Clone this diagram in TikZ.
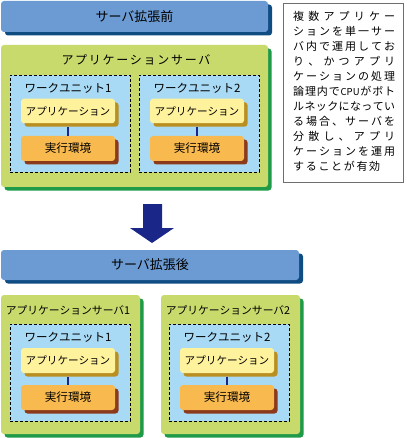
\documentclass[tikz,border=0pt]{standalone}
\usepackage{fontspec}
\setmainfont{Noto Sans CJK JP}
\usetikzlibrary{shadows}
\definecolor{barblue}{HTML}{6B9BD2}
\definecolor{barshadow}{HTML}{0E4C82}
\definecolor{srvgreen}{HTML}{C8DA6C}
\definecolor{srvshadow}{HTML}{1F9A48}
\definecolor{wublue}{HTML}{A9DAF5}
\definecolor{appyellow}{HTML}{FFF29C}
\definecolor{appshadow}{HTML}{B98F22}
\definecolor{exorange}{HTML}{F8B94F}
\definecolor{exshadow}{HTML}{8C3A1C}
\definecolor{arrowblue}{HTML}{1A2788}
\definecolor{noteborder}{HTML}{6E6E6E}
\def\jend{\jend}
\def\jspread#1{\ifx\jend#1\unskip\else{#1}\hfill\expandafter\jspread\fi}
\newcommand\jsp[2]{\hbox to #1{\jspread#2\jend}}
\tikzset{
  barbox/.style={fill=barblue, rounded corners=3pt, inner sep=0pt,
    general shadow={fill=barshadow, shadow xshift=4pt, shadow yshift=-3.5pt},
    font=\fontsize{13}{15}\selectfont},
  srvbox/.style={fill=srvgreen, rounded corners=3pt, inner sep=0pt,
    general shadow={fill=srvshadow, shadow xshift=3.5pt, shadow yshift=-3.5pt}},
  wubox/.style={fill=wublue, draw=black, densely dashed, line width=0.8pt, inner sep=0pt},
  appbox/.style={fill=appyellow, rounded corners=3pt, inner sep=0pt,
    minimum width=94pt, minimum height=24.5pt,
    general shadow={fill=appshadow, shadow xshift=3.5pt, shadow yshift=-3.5pt},
    font=\fontsize{10.6}{12}\selectfont},
  exbox/.style={fill=exorange, rounded corners=3pt, inner sep=0pt,
    minimum width=94pt, minimum height=25pt,
    general shadow={fill=exshadow, shadow xshift=3.5pt, shadow yshift=-3.5pt},
    font=\fontsize{11.6}{13}\selectfont},
  wulabel/.style={inner sep=0pt, font=\fontsize{11.5}{13}\selectfont},
  srvlabel/.style={inner sep=0pt, font=\fontsize{10.8}{13}\selectfont},
  link/.style={draw=arrowblue, line width=2pt, shorten <=3.5pt},
  noteline/.style={anchor=west, inner sep=0pt, font=\fontsize{11}{13}\selectfont},
}
\begin{document}
\begin{tikzpicture}[x=1pt,y=-1pt]
\useasboundingbox (0,0) rectangle (406,438);
% ---------- before ----------
\node[barbox, minimum width=267pt, minimum height=31pt] (bar1) at (134.5,16.5) {サーバ拡張前};
\node[srvbox, minimum width=267pt, minimum height=142pt] (srv) at (134.5,116) {};
\node[inner sep=0pt, font=\fontsize{12}{14}\selectfont] (srvT) at (136,60) {\jsp{149pt}{アプリケーションサーバ}};
\node[wubox, minimum width=120pt, minimum height=97pt] (wuA) at (70,123.5) {};
\node[wulabel] (wuAT) at (68,88) {ワークユニット1};
\node[appbox] (appA) at (68,111) {アプリケーション};
\node[exbox] (exA) at (68,148.5) {実行環境};
\draw[link] (appA.south) -- (exA.north);
\node[wubox, minimum width=120pt, minimum height=97pt] (wuB) at (199,123.5) {};
\node[wulabel] (wuBT) at (197,88) {ワークユニット2};
\node[appbox] (appB) at (197,111) {アプリケーション};
\node[exbox] (exB) at (197,148.5) {実行環境};
\draw[link] (appB.south) -- (exB.north);
% ---------- note ----------
\node[draw=noteborder, line width=1.5pt, minimum width=120pt, minimum height=179pt, inner sep=0pt] (note) at (343.5,93) {};
\node[noteline] (l1) at (293,16) {\jsp{102pt}{複数アプリケー}};
\node[noteline] (l2) at (293,31) {\jsp{102pt}{ションを単一サー}};
\node[noteline] (l3) at (293,46) {\jsp{102pt}{バ内で運用してお}};
\node[noteline] (l4) at (293,61) {\jsp{102pt}{り、かつアプリ}};
\node[noteline] (l5) at (293,76) {\jsp{102pt}{ケーションの処理}};
\node[noteline] (l6) at (293,91) {\jsp{102pt}{論理内で{\fontsize{9.5}{11}\selectfont CPU}がボト}};
\node[noteline] (l7) at (293,106) {\jsp{102pt}{ルネックになってい}};
\node[noteline] (l8) at (293,121) {\jsp{102pt}{る場合、サーバを}};
\node[noteline] (l9) at (293,136) {\jsp{102pt}{分散し、アプリ}};
\node[noteline] (l10) at (293,151) {\jsp{102pt}{ケーションを運用}};
\node[noteline] (l11) at (293,166) {\jsp{87pt}{することが有効}};
% ---------- arrow ----------
\fill[arrowblue] (143,204) -- (162,204) -- (162,228) -- (174,228) -- (152,243) -- (130,228) -- (143,228) -- cycle;
% ---------- after ----------
\node[barbox, minimum width=298pt, minimum height=30pt] (bar2) at (150,265) {サーバ拡張後};
\node[srvbox, minimum width=139pt, minimum height=139pt] (srv1) at (70.5,364.5) {};
\node[srvlabel] (srv1T) at (68,310) {アプリケーションサーバ1};
\node[wubox, minimum width=120pt, minimum height=97pt] (wuC) at (70,372.5) {};
\node[wulabel] (wuCT) at (68,337) {ワークユニット1};
\node[appbox, minimum height=25pt] (appC) at (68,360.5) {アプリケーション};
\node[exbox] (exC) at (68,397.5) {実行環境};
\draw[link] (appC.south) -- (exC.north);
\node[srvbox, minimum width=139pt, minimum height=139pt] (srv2) at (230.5,364.5) {};
\node[srvlabel] (srv2T) at (228,310) {アプリケーションサーバ2};
\node[wubox, minimum width=120pt, minimum height=97pt] (wuD) at (229,372.5) {};
\node[wulabel] (wuDT) at (227,337) {ワークユニット2};
\node[appbox, minimum height=25pt] (appD) at (227,360.5) {アプリケーション};
\node[exbox] (exD) at (227,397.5) {実行環境};
\draw[link] (appD.south) -- (exD.north);
\end{tikzpicture}
\end{document}
